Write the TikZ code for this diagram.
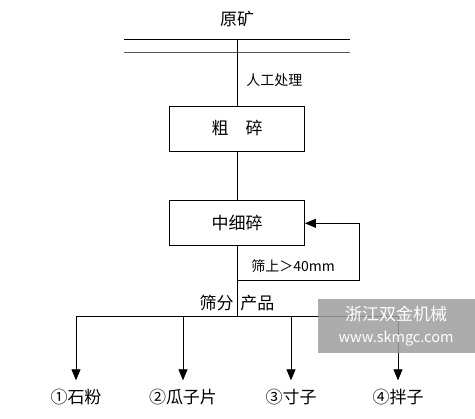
\documentclass[tikz,border=0pt]{standalone}
\usepackage{fontspec}
\newfontfamily\cjk{Noto Sans CJK SC}
\usetikzlibrary{positioning,arrows.meta}

\begin{document}
\begin{tikzpicture}[x=1pt, y=-1pt, line width=0.8pt,
        font=\cjk\fontsize{17}{19}\selectfont,
        crush/.style={draw=black, rectangle, minimum width=135pt, minimum height=45pt},
        small/.style={font=\cjk\fontsize{14}{16}\selectfont, inner sep=0pt},
        tip/.style={-{Triangle[length=11pt, width=9pt]}}]
        \useasboundingbox (0,0) rectangle (475,419);

        \node (ore) at (237,19) {原矿} ;
        \coordinate (barL) at (124,39) ;
        \coordinate (barR) at (350,39) ;
        \draw (barL) -- (barR) ;
        \draw [black!65] ([yshift=-13pt]barL) -- ([yshift=-13pt]barR) ;

        \node [crush] (coarse) at (237,128.5) {粗　碎} ;
        \node [crush, below = 49pt of coarse] (fine) {中细碎} ;
        \draw (coarse.north |- barL) -- (coarse.north) ;
        \node [small, anchor = west] (manual) at (246,80) {人工处理} ;
        \draw (coarse) -- (fine) ;

        % return loop
        \coordinate (loop) at (359,280) ;
        \coordinate (split) at (237,316) ;
        \draw (fine.south) -- (split) ;
        \draw [tip] (fine.south |- loop) -- (loop) |- (fine.east) ;
        \node [small, anchor = west] (over) at (251,266) {筛上＞40mm} ;

        \node [anchor = east, inner sep = 0pt] (sieve) at (234,303) {筛分} ;
        \node [anchor = west, inner sep = 0pt] (prod) at (240,303) {产品} ;

        % products
        \node (p1) at (76,397) {①石粉} ;
        \node (p2) at (183,397) {②瓜子片} ;
        \node (p3) at (291,397) {③寸子} ;
        \node (p4) at (398,397) {④拌子} ;
        \draw (p1 |- split) -- (p4 |- split) ;
        \foreach \p in {p1, p2, p3, p4}
            \draw [tip, shorten >= 5pt] (\p |- split) -- (\p.north) ;

        % watermark
        \fill [black!38, opacity = 0.85] (318,299) rectangle (475,353) ;
        \node [white] (mark) at (396,314) {浙江双金机械} ;
        \node [white, below = 2pt of mark, font = \cjk\fontsize{14.5}{16}\selectfont] (site) {www.skmgc.com} ;
    \end{tikzpicture}
\end{document}
